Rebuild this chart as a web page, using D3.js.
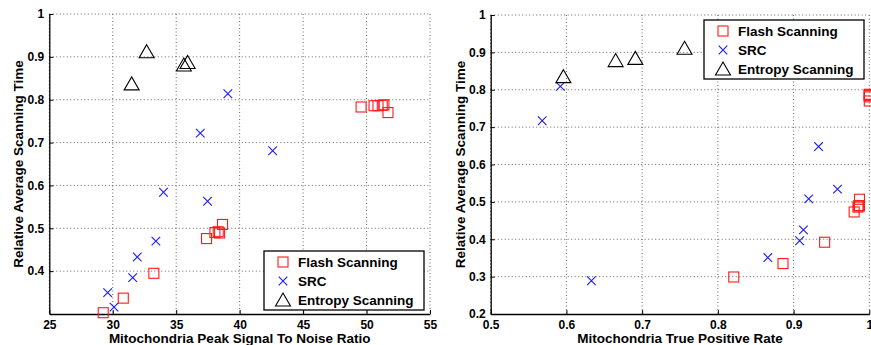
<!DOCTYPE html>
<html>
<head>
<meta charset="utf-8">
<script src="https://cdn.jsdelivr.net/npm/d3@7"></script>
<style>
  body { margin: 0; background: #fff; }
  svg { display: block; }
  text { font-family: "Liberation Sans", Arial, sans-serif; font-weight: bold; }
</style>
</head>
<body>
<div id="chart"></div>
<script>
// Left panel: peak SNR vs relative scanning time
var psnrFlashX = [29.25, 30.83, 33.24, 37.39, 38.05, 38.31, 38.42, 38.65, 49.57, 50.59, 50.9, 51.24, 51.37, 51.69];
var psnrFlashY = [0.303, 0.337, 0.395, 0.476, 0.490, 0.492, 0.489, 0.509, 0.783, 0.786, 0.786, 0.787, 0.788, 0.770];
var psnrSrcX = [29.6, 30.1, 31.57, 31.93, 33.4, 34.0, 36.9, 37.47, 39.07, 42.6];
var psnrSrcY = [0.350, 0.316, 0.385, 0.433, 0.470, 0.584, 0.722, 0.563, 0.814, 0.681];
var psnrEntX = [31.49, 32.67, 35.6, 35.9];
var psnrEntY = [0.837, 0.912, 0.881, 0.887];

// Right panel: true positive rate vs relative scanning time
var tprFlashX = [0.821, 0.886, 0.941, 0.980, 0.985, 0.986, 0.987, 0.987, 1.0, 1.0, 1.0, 1.0, 1.0];
var tprFlashY = [0.299, 0.335, 0.392, 0.473, 0.486, 0.490, 0.489, 0.507, 0.781, 0.785, 0.786, 0.788, 0.770];
var tprSrcX = [0.568, 0.592, 0.633, 0.866, 0.908, 0.913, 0.920, 0.933, 0.958];
var tprSrcY = [0.717, 0.809, 0.289, 0.351, 0.396, 0.425, 0.508, 0.648, 0.534];
var tprEntX = [0.596, 0.665, 0.691, 0.756];
var tprEntY = [0.835, 0.878, 0.884, 0.911];

var seriesNames = ["Flash Scanning", "SRC", "Entropy Scanning"];
var psnrTicks = [25, 30, 35, 40, 45, 50, 55];
var psnrYTicks = [0.4, 0.5, 0.6, 0.7, 0.8, 0.9, 1];
var tprTicks = [0.5, 0.6, 0.7, 0.8, 0.9, 1];
var tprYTicks = [0.2, 0.3, 0.4, 0.5, 0.6, 0.7, 0.8, 0.9, 1];

var W = 871, H = 345;
var svg = d3.select("#chart").append("svg").attr("width", W).attr("height", H);

function zip(xs, ys) { return xs.map((x, i) => [x, ys[i]]); }

function drawMarker(g, kind, x, y) {
  if (kind === 0) {
    g.append("rect").attr("x", x - 5).attr("y", y - 5).attr("width", 10).attr("height", 10)
      .attr("fill", "none").attr("stroke", "#ff1a1a").attr("stroke-width", 1.1);
  } else if (kind === 1) {
    var s = 4.3;
    g.append("path").attr("d", "M" + (x - s) + "," + (y - s) + "L" + (x + s) + "," + (y + s) +
      "M" + (x - s) + "," + (y + s) + "L" + (x + s) + "," + (y - s))
      .attr("stroke", "#1a1aff").attr("stroke-width", 1.1).attr("fill", "none");
  } else {
    g.append("path").attr("d", "M" + x + "," + (y - 7) + "L" + (x + 7.5) + "," + (y + 6) +
      "L" + (x - 7.5) + "," + (y + 6) + "Z")
      .attr("fill", "none").attr("stroke", "#000").attr("stroke-width", 1.1);
  }
}

function panel(p) {
  var x = d3.scaleLinear().domain(p.xDomain).range([p.left, p.right]);
  var y = d3.scaleLinear().domain(p.yDomain).range([p.bottom, p.top]);
  var g = svg.append("g");

  // dotted grid
  g.selectAll(null).data(p.xTicks).enter().append("line")
    .attr("x1", d => x(d)).attr("x2", d => x(d)).attr("y1", p.top).attr("y2", p.bottom)
    .attr("stroke", "#555").attr("stroke-width", 0.9).attr("stroke-dasharray", "1,2.5");
  g.selectAll(null).data(p.yGrid).enter().append("line")
    .attr("y1", d => y(d)).attr("y2", d => y(d)).attr("x1", p.left).attr("x2", p.right)
    .attr("stroke", "#555").attr("stroke-width", 0.9).attr("stroke-dasharray", "1,2.5");

  // axes
  var xa = g.append("g").attr("transform", "translate(0," + p.bottom + ")")
    .call(d3.axisBottom(x).tickValues(p.xTicks).tickFormat(d3.format("")).tickSizeInner(-4).tickSizeOuter(0).tickPadding(6));
  var ya = g.append("g").attr("transform", "translate(" + p.left + ",0)")
    .call(d3.axisLeft(y).tickValues(p.yTicks).tickFormat(d3.format("")).tickSizeInner(-4).tickSizeOuter(0).tickPadding(5));
  [xa, ya].forEach(a => {
    a.select(".domain").attr("stroke", "#000").attr("stroke-width", 1.3);
    a.selectAll(".tick line").attr("stroke", "#000");
    a.selectAll("text").attr("font-size", 12).attr("fill", "#000")
      .style("font-family", "'Liberation Sans', Arial, sans-serif").style("font-weight", "bold");
  });

  // axis titles
  g.append("text").attr("x", (p.left + p.right) / 2).attr("y", 343)
    .attr("text-anchor", "middle").attr("font-size", 13.5).text(p.xLabel);
  g.append("text").attr("transform", "translate(" + (p.left - 26) + "," + ((p.top + p.bottom) / 2) + ") rotate(-90)")
    .attr("text-anchor", "middle").attr("font-size", 13.5).text(p.yLabel);

  // points
  var m = svg.append("g");
  p.series.forEach((pts, k) => pts.forEach(d => drawMarker(m, k, x(d[0]), y(d[1]))));

  // legend
  var L = p.legend;
  var lg = svg.append("g");
  lg.append("rect").attr("x", L.x).attr("y", L.y).attr("width", 160).attr("height", 59)
    .attr("fill", "#fff").attr("stroke", "#000").attr("stroke-width", 1.3);
  seriesNames.forEach((name, k) => {
    var cy = L.y + 11 + k * 19;
    drawMarker(lg, k, L.x + 19, cy);
    lg.append("text").attr("x", L.x + 34).attr("y", cy + 5).attr("font-size", 13.5).text(name);
  });
}

panel({
  left: 49.3, right: 430, top: 14, bottom: 314,
  xDomain: [25, 55], yDomain: [0.3, 1],
  xTicks: psnrTicks, yTicks: psnrYTicks, yGrid: psnrYTicks,
  xLabel: "Mitochondria Peak Signal To Noise Ratio",
  yLabel: "Relative Average Scanning Time",
  series: [zip(psnrFlashX, psnrFlashY), zip(psnrSrcX, psnrSrcY), zip(psnrEntX, psnrEntY)],
  legend: { x: 264, y: 251 }
});

panel({
  left: 490.7, right: 869.3, top: 15, bottom: 314,
  xDomain: [0.5, 1], yDomain: [0.2, 1],
  xTicks: tprTicks, yTicks: tprYTicks, yGrid: tprYTicks.slice(1),
  xLabel: "Mitochondria True Positive Rate",
  yLabel: "Relative Average Scanning Time",
  series: [zip(tprFlashX, tprFlashY), zip(tprSrcX, tprSrcY), zip(tprEntX, tprEntY)],
  legend: { x: 704, y: 20 }
});
</script>
</body>
</html>
